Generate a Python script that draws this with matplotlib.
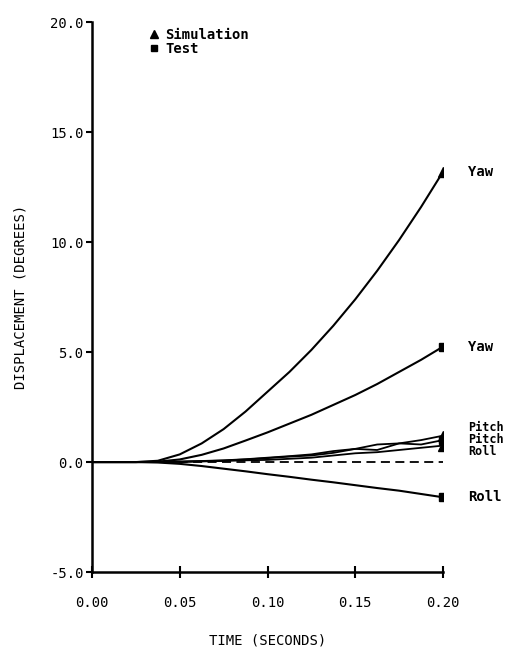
import matplotlib
matplotlib.use("Agg")
import matplotlib.pyplot as plt
from matplotlib.lines import Line2D

time = [0, 0.0125, 0.025, 0.0375, 0.05, 0.0625, 0.075, 0.0875, 0.1,
        0.1125, 0.125, 0.1375, 0.15, 0.1625, 0.175, 0.1875, 0.2]
sim_yaw = [0, 0, 0, 0.06, 0.35, 0.85, 1.5, 2.3, 3.2, 4.1, 5.1, 6.2, 7.4, 8.7, 10.1, 11.6, 13.2]
test_yaw = [0, 0, 0, 0.02, 0.12, 0.33, 0.62, 0.98, 1.35, 1.75, 2.15, 2.6, 3.05, 3.55, 4.1, 4.65, 5.25]
test_roll = [0, 0, 0, -0.02, -0.08, -0.18, -0.3, -0.42, -0.55, -0.67, -0.8, -0.92, -1.05, -1.18, -1.3, -1.45, -1.6]
sim_pitch = [0, 0, 0, 0, 0.02, 0.05, 0.08, 0.13, 0.2, 0.27, 0.35, 0.5, 0.6, 0.8, 0.85, 1.0, 1.2]
test_pitch = [0, 0, 0, 0, 0.02, 0.04, 0.07, 0.12, 0.18, 0.25, 0.3, 0.42, 0.6, 0.55, 0.85, 0.8, 1.0]
sim_roll = [0, 0, 0, 0, 0.01, 0.03, 0.05, 0.08, 0.1, 0.15, 0.2, 0.3, 0.4, 0.45, 0.55, 0.65, 0.75]
zero_ref = [0] * len(time)

x_ticks = [0.00, 0.05, 0.10, 0.15, 0.20]
x_tick_labels = ["0.00", "0.05", "0.10", "0.15", "0.20"]
y_ticks = [-5.0, 0.0, 5.0, 10.0, 15.0, 20.0]
y_tick_labels = ["-5.0", "0.0", "5.0", "10.0", "15.0", "20.0"]

FONT = "DejaVu Sans Mono"
plt.rcParams["font.family"] = FONT

fig = plt.figure(figsize=(5.24, 6.56), dpi=100)
ax = fig.add_axes([0.1756, 0.128, 0.6698, 0.838])

lw = 1.5
ax.plot(time, sim_yaw, color="black", lw=lw)
ax.plot(time, test_yaw, color="black", lw=lw)
ax.plot(time, test_roll, color="black", lw=lw)
ax.plot(time, sim_pitch, color="black", lw=1.3)
ax.plot(time, test_pitch, color="black", lw=1.3)
ax.plot(time, sim_roll, color="black", lw=1.3)
ax.plot(time, zero_ref, color="black", lw=1.3, ls=(0, (5, 3)))

# end markers
ax.plot([time[-1]], [sim_yaw[-1]], marker="^", color="black", ms=7, ls="none")
ax.plot([time[-1]], [test_yaw[-1]], marker="s", color="black", ms=5.5, ls="none")
ax.plot([time[-1]], [test_roll[-1]], marker="s", color="black", ms=5.5, ls="none")
ax.plot([time[-1]], [sim_pitch[-1]], marker="^", color="black", ms=7, ls="none")
ax.plot([time[-1]], [test_pitch[-1]], marker="s", color="black", ms=5.5, ls="none")
ax.plot([time[-1]], [sim_roll[-1]], marker="^", color="black", ms=7, ls="none")

# end labels
tx = 0.2142
fs = 10
ax.text(tx, sim_yaw[-1], "Yaw", fontsize=fs, fontweight="bold", va="center", ha="left")
ax.text(tx, test_yaw[-1], "Yaw", fontsize=fs, fontweight="bold", va="center", ha="left")
ax.text(tx, test_roll[-1], "Roll", fontsize=fs, fontweight="bold", va="center", ha="left")
sfs = 8.5
ax.text(tx, 1.58, "Pitch", fontsize=sfs, fontweight="bold", va="center", ha="left")
ax.text(tx, 1.04, "Pitch", fontsize=sfs, fontweight="bold", va="center", ha="left")
ax.text(tx, 0.5, "Roll", fontsize=sfs, fontweight="bold", va="center", ha="left")

ax.set_xlim(0, 0.2)
ax.set_ylim(-5, 20)
ax.set_xticks(x_ticks)
ax.set_xticklabels(x_tick_labels, fontsize=10)
ax.set_yticks(y_ticks)
ax.set_yticklabels(y_tick_labels, fontsize=10)
ax.tick_params(axis="x", direction="inout", length=8, width=1.5, pad=13)
ax.tick_params(axis="y", direction="out", length=4, width=1.5, pad=2)

for s in ["top", "right"]:
    ax.spines[s].set_visible(False)
for s in ["left", "bottom"]:
    ax.spines[s].set_linewidth(1.8)

ax.set_xlabel("TIME (SECONDS)", fontsize=10, labelpad=17)
ax.set_ylabel("DISPLACEMENT (DEGREES)", fontsize=10, labelpad=16)

handles = [
    Line2D([], [], marker="^", color="black", ls="none", ms=6),
    Line2D([], [], marker="s", color="black", ls="none", ms=5),
]
leg = ax.legend(handles, ["Simulation", "Test"], loc="upper left",
                bbox_to_anchor=(0.125, 1.01), frameon=False,
                handletextpad=0.3, labelspacing=0.0, handlelength=1.0,
                borderpad=0.3, prop={"family": FONT, "weight": "bold", "size": 10})

fig.savefig("out.png", dpi=100)
